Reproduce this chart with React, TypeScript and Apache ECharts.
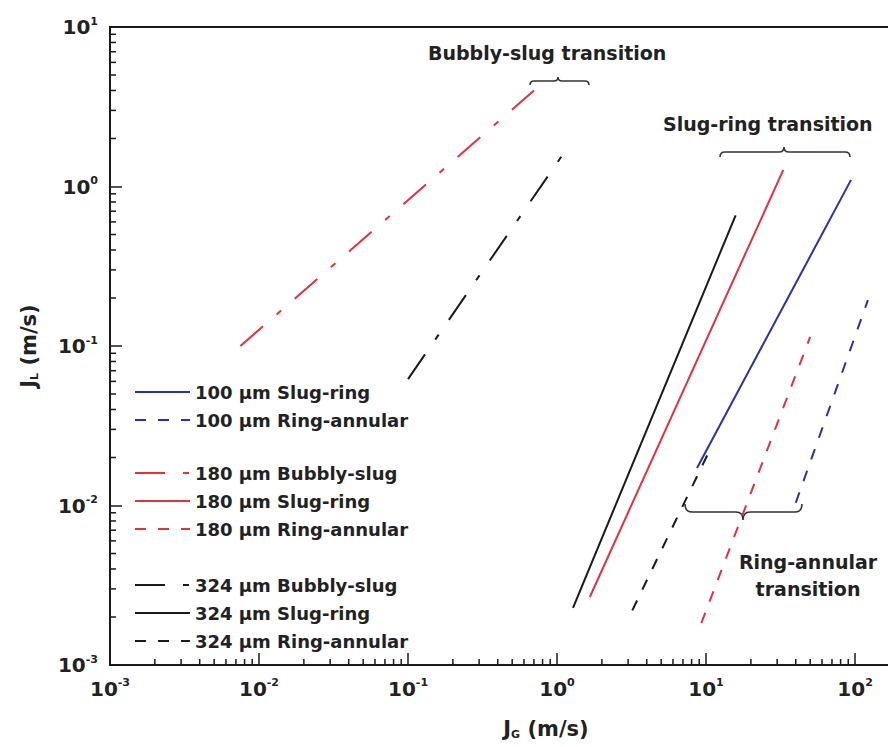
import React, { useEffect, useRef } from "react";
import * as echarts from "echarts";

// ---- Data (log-log straight transition lines) ----
const bubblySlug180X = [0.0075, 0.7];
const bubblySlug180Y = [0.1, 4.0];
const bubblySlug324X = [0.1, 1.2];
const bubblySlug324Y = [0.062, 1.8];

const slugRing100X = [8.7, 94];
const slugRing100Y = [0.0172, 1.1];
const slugRing180X = [1.66, 33];
const slugRing180Y = [0.00267, 1.27];
const slugRing324X = [1.28, 15.8];
const slugRing324Y = [0.00228, 0.66];

const ringAnnular100X = [40, 122];
const ringAnnular100Y = [0.0104, 0.194];
const ringAnnular180X = [9.3, 50];
const ringAnnular180Y = [0.00183, 0.114];
const ringAnnular324X = [3.2, 10.2];
const ringAnnular324Y = [0.0022, 0.0207];

const xMin = 0.001;
const xMax = 177;
const yMin = 0.001;
const yMax = 10;
const xDecades = [-3, -2, -1, 0, 1, 2];
const yDecades = [-3, -2, -1, 0];
const minorMultipliers = [2, 3, 4, 5, 6, 7, 8, 9];

const BLUE = "#2f2fa6";
const RED = "#e0323f";
const BLACK = "#1a1a1a";
const FONT = "DejaVu Sans";

const DASH = [11, 12];
const DASHDOT = [30, 18, 6, 18];

const zip = (xs: number[], ys: number[]) => xs.map((x, i) => [x, ys[i]]);

// braces (annotation shapes)
const braceBS =
  "M530,85 Q530,81 534,81 L554,81 Q558,81 558,77 Q558,81 562,81 L585,81 Q589,81 589,85";
const braceSR =
  "M720,157 Q720,152 725,152 L779,152 Q784,152 784,147 Q784,152 789,152 L845,152 Q850,152 850,157";
const braceRA =
  "M685,504 Q685,512 692,512 L736,512 Q743,512 743,520 Q743,512 750,512 L795,512 Q802,512 802,504";
echarts.graphic.registerShape("braceBS", echarts.graphic.extendPath(braceBS, {}));
echarts.graphic.registerShape("braceSR", echarts.graphic.extendPath(braceSR, {}));
echarts.graphic.registerShape("braceRA", echarts.graphic.extendPath(braceRA, {}));

function powLabel(v: number) {
  const e = Math.round(Math.log10(v));
  return `{b|10}{s|${e}}`;
}

const labelRich = {
  b: { fontFamily: FONT, fontWeight: "bold", fontSize: 20, color: "#222" },
  s: { fontFamily: FONT, fontWeight: "bold", fontSize: 11, color: "#222", padding: [0, 0, 12, 0] },
};

export default function App() {
  const ref = useRef<HTMLDivElement>(null);
  useEffect(() => {
    if (!ref.current) return;
    const chart = echarts.init(ref.current, undefined, { renderer: "svg" });

    const xMinor: number[][] = [];
    xDecades.forEach((d) =>
      minorMultipliers.forEach((k) => {
        const v = k * Math.pow(10, d);
        if (v < xMax) xMinor.push([v, yMin]);
      })
    );
    const yMinor: number[][] = [];
    yDecades.forEach((d) =>
      minorMultipliers.forEach((k) => {
        const v = k * Math.pow(10, d);
        if (v < yMax) yMinor.push([xMin, v]);
      })
    );

    const line = (name: string, data: number[][], color: string, type: any) => ({
      name,
      type: "line",
      data,
      symbol: "none",
      showSymbol: false,
      lineStyle: { color, width: 2, type },
      itemStyle: { color },
      z: 3,
    });

    const legendBase = {
      orient: "vertical",
      left: 129,
      itemWidth: 55,
      itemHeight: 14,
      itemGap: 10,
      itemStyle: { opacity: 0 },
      textStyle: { fontFamily: FONT, fontWeight: "bold", fontSize: 18, color: "#222", lineHeight: 18 },
      selectedMode: false,
    };

    chart.setOption({
      animation: false,
      backgroundColor: "#fff",
      grid: {
        left: 110,
        top: 27,
        right: -4,
        bottom: 82,
        outerBoundsMode: "none",
        containLabel: false,
        show: true,
        borderColor: BLACK,
        borderWidth: 2,
      },
      legend: [
        { ...legendBase, top: 378, data: ["100 µm Slug-ring", "100 µm Ring-annular"] },
        {
          ...legendBase,
          top: 459,
          data: ["180 µm Bubbly-slug", "180 µm Slug-ring", "180 µm Ring-annular"],
        },
        {
          ...legendBase,
          top: 571,
          data: ["324 µm Bubbly-slug", "324 µm Slug-ring", "324 µm Ring-annular"],
        },
      ],
      xAxis: {
        type: "log",
        logBase: 10,
        min: xMin,
        max: xMax,
        name: "{n|J}{sub|G}{n| (m/s)}",
        nameLocation: "middle",
        nameGap: 52,
        nameTextStyle: {
          padding: [0, 0, 0, 90],
          rich: {
            n: { fontFamily: FONT, fontWeight: "bold", fontSize: 21, color: "#222" },
            sub: { fontFamily: FONT, fontWeight: "bold", fontSize: 11, color: "#222", padding: [12, 0, 0, 0] },
          },
        },
        axisLine: { lineStyle: { color: BLACK, width: 2 } },
        axisTick: { inside: true, length: 12, lineStyle: { color: BLACK, width: 1.5 } },
        axisLabel: { margin: 12, formatter: powLabel, rich: labelRich, showMaxLabel: false },
        splitLine: { show: false },
        minorTick: { show: false },
      },
      yAxis: {
        type: "log",
        logBase: 10,
        min: yMin,
        max: yMax,
        name: "{n|J}{sub|L}{n| (m/s)}",
        nameLocation: "middle",
        nameGap: 70,
        nameRotate: 90,
        nameTextStyle: {
          rich: {
            n: { fontFamily: FONT, fontWeight: "bold", fontSize: 21, color: "#222" },
            sub: { fontFamily: FONT, fontWeight: "bold", fontSize: 11, color: "#222", padding: [12, 0, 0, 0] },
          },
        },
        axisLine: { lineStyle: { color: BLACK, width: 2 } },
        axisTick: { inside: true, length: 12, lineStyle: { color: BLACK, width: 1.5 } },
        axisLabel: { margin: 12, formatter: powLabel, rich: labelRich },
        splitLine: { show: false },
      },
      series: [
        line("100 µm Slug-ring", zip(slugRing100X, slugRing100Y), BLUE, "solid"),
        line("100 µm Ring-annular", zip(ringAnnular100X, ringAnnular100Y), BLUE, DASH),
        line("180 µm Bubbly-slug", zip(bubblySlug180X, bubblySlug180Y), RED, DASHDOT),
        line("180 µm Slug-ring", zip(slugRing180X, slugRing180Y), RED, "solid"),
        line("180 µm Ring-annular", zip(ringAnnular180X, ringAnnular180Y), RED, DASH),
        line("324 µm Bubbly-slug", zip(bubblySlug324X, bubblySlug324Y), BLACK, DASHDOT),
        line("324 µm Slug-ring", zip(slugRing324X, slugRing324Y), BLACK, "solid"),
        line("324 µm Ring-annular", zip(ringAnnular324X, ringAnnular324Y), BLACK, DASH),
        {
          name: "xMinorTicks",
          type: "custom",
          data: xMinor,
          silent: true,
          renderItem: (_p: any, api: any) => {
            const p = api.coord([api.value(0), api.value(1)]);
            return {
              type: "line",
              shape: { x1: p[0], y1: p[1], x2: p[0], y2: p[1] - 6 },
              style: { stroke: BLACK, lineWidth: 1.5 },
            };
          },
        },
        {
          name: "yMinorTicks",
          type: "custom",
          data: yMinor,
          silent: true,
          renderItem: (_p: any, api: any) => {
            const p = api.coord([api.value(0), api.value(1)]);
            return {
              type: "line",
              shape: { x1: p[0], y1: p[1], x2: p[0] + 6, y2: p[1] },
              style: { stroke: BLACK, lineWidth: 1.5 },
            };
          },
        },
      ],
      graphic: [
        {
          type: "text",
          left: 428,
          top: 43,
          style: { text: "Bubbly-slug transition", fontFamily: FONT, fontWeight: "bold", fontSize: 19, fill: "#222" },
        },
        {
          type: "text",
          left: 663,
          top: 114,
          style: { text: "Slug-ring transition", fontFamily: FONT, fontWeight: "bold", fontSize: 19, fill: "#222" },
        },
        {
          type: "text",
          x: 808,
          y: 548,
          style: {
            text: "Ring-annular\ntransition",
            align: "center",
            fontFamily: FONT,
            fontWeight: "bold",
            fontSize: 19,
            lineHeight: 27,
            fill: "#222",
          },
        },
        { type: "braceBS", style: { stroke: "#333", fill: "none", lineWidth: 1.6 } },
        { type: "braceSR", style: { stroke: "#333", fill: "none", lineWidth: 1.6 } },
        { type: "braceRA", style: { stroke: "#333", fill: "none", lineWidth: 1.6 } },
      ],
    });
    return () => chart.dispose();
  }, []);
  return (
    <div
      ref={ref}
      style={{ position: "fixed", left: 0, top: 0, width: 888, height: 747, background: "#fff" }}
    />
  );
}
